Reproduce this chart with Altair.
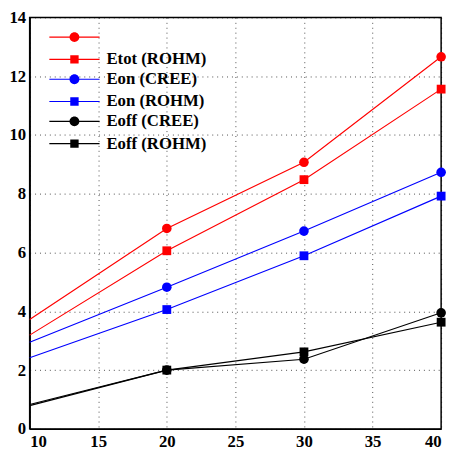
import altair as alt
import pandas as pd

x_vals = [10, 20, 30, 40]
series_names = ["Etot (CREE)", "Etot (ROHM)", "Eon (CREE)", "Eon (ROHM)", "Eoff (CREE)", "Eoff (ROHM)"]
series_makers = ["CREE", "ROHM", "CREE", "ROHM", "CREE", "ROHM"]
etot_cree = [3.72, 6.82, 9.07, 12.66]
etot_rohm = [3.19, 6.06, 8.48, 11.56]
eon_cree = [2.95, 4.82, 6.73, 8.73]
eon_rohm = [2.42, 4.06, 5.89, 7.92]
eoff_cree = [0.83, 2.00, 2.37, 3.95]
eoff_rohm = [0.79, 2.00, 2.62, 3.63]
series_values = [etot_cree, etot_rohm, eon_cree, eon_rohm, eoff_cree, eoff_rohm]
colors = ["#ff0000", "#ff0000", "#0000ff", "#0000ff", "#000000", "#000000"]

rows = []
for name, maker, vals in zip(series_names, series_makers, series_values):
    for xv, yv in zip(x_vals, vals):
        rows.append({"x": xv, "y": yv, "series": name, "maker": maker})
df = pd.DataFrame(rows)

FONT = "Liberation Serif"

# legend symbols: line segment + marker as custom paths
line_part = "M-5.1,-0.11H5.1V0.11H-5.1Z "
circle_sym = line_part + "M1.0,0A1.0,1.0,0,1,1,-1.0,0A1.0,1.0,0,1,1,1.0,0Z"
square_sym = line_part + "M-0.85,-0.85H0.85V0.85H-0.85Z"

xs = alt.X("x:Q", scale=alt.Scale(domain=[10, 40], nice=False),
           axis=alt.Axis(values=[10, 15, 20, 25, 30, 35, 40], title=None, labelPadding=5))
ys = alt.Y("y:Q", scale=alt.Scale(domain=[0, 14], nice=False),
           axis=alt.Axis(values=[0, 2, 4, 6, 8, 10, 12, 14], title=None, labelPadding=4))

lines = alt.Chart(df).mark_line(strokeWidth=1.15).encode(
    x=xs, y=ys,
    stroke=alt.Stroke("series:N", scale=alt.Scale(domain=series_names, range=colors), legend=None),
    order="x:Q",
)

circles = alt.Chart(df).transform_filter("datum.x > 10 && datum.maker == 'CREE'").mark_circle(opacity=1, size=95).encode(
    x=xs, y=ys,
    fill=alt.Fill("series:N", scale=alt.Scale(domain=series_names, range=colors), legend=None),
)

squares = alt.Chart(df).transform_filter("datum.x > 10 && datum.maker == 'ROHM'").mark_square(opacity=1, size=80).encode(
    x=xs, y=ys,
    fill=alt.Fill("series:N", scale=alt.Scale(domain=series_names, range=colors), legend=None),
)

# one legend per colour pair (shape legends, independent scales)
ROW = 21.4
legend_layers = []
for g in range(3):
    names = series_names[2 * g: 2 * g + 2]
    makers = series_makers[2 * g: 2 * g + 2]
    shapes = [circle_sym if m == "CREE" else square_sym for m in makers]
    leg = alt.Legend(
        title=None, orient="none", legendX=37, legendY=11.5 + g * 2 * ROW, padding=0,
        symbolSize=100, symbolStrokeWidth=0, symbolOpacity=1,
        labelFont=FONT, labelFontWeight="bold", labelFontSize=17,
        labelColor="black", labelOffset=24, rowPadding=4.6,
        labelExpr="datum.label == 'Etot (CREE)' ? '' : datum.label",
    )
    layer = alt.Chart(df).transform_filter(
        alt.FieldOneOfPredicate(field="series", oneOf=names)
    ).mark_point(filled=True, opacity=0, color=colors[2 * g]).encode(
        x=xs, y=ys,
        shape=alt.Shape("series:N", scale=alt.Scale(domain=names, range=shapes), legend=leg),
    )
    legend_layers.append(layer)

chart = alt.layer(lines, circles, squares, *legend_layers).resolve_scale(
    shape="independent"
).properties(
    width=418, height=418,
    autosize=alt.AutoSizeParams(type="none"),
    padding={"left": 22, "top": 6, "right": 8, "bottom": 25},
).configure_view(
    stroke="black", strokeWidth=1.5
).configure_axis(
    labelFont=FONT, labelFontWeight="bold", labelFontSize=17, labelColor="black",
    domainColor="black", domainWidth=1.5, ticks=False,
    grid=True, gridColor="#000000", gridOpacity=0.7, gridDash=[1, 4], gridWidth=1,
)

chart.save("out.html", embed_options={"renderer": "svg", "actions": False})
